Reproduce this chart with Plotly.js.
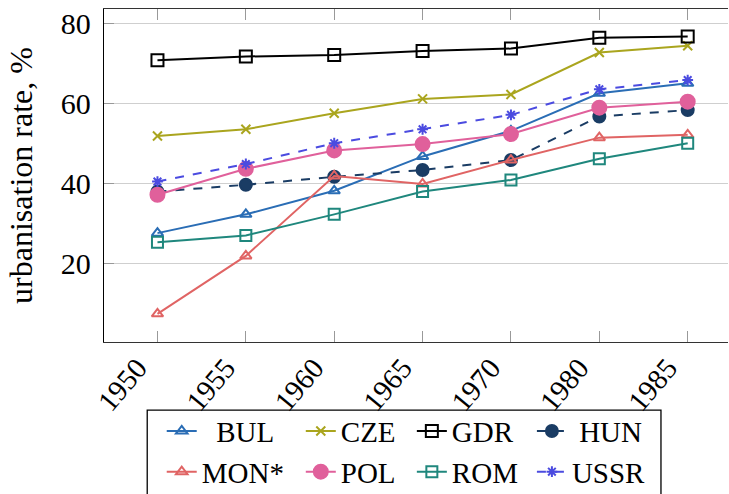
<!DOCTYPE html>
<html>
<head>
<meta charset="utf-8">
<script src="https://cdn.plot.ly/plotly-3.0.1.min.js"></script>
<style>html,body{margin:0;padding:0;overflow:hidden;background:#fff}</style>
</head>
<body>
<div id="chart" style="width:729px;height:494px"></div>
<script>
var years = ["1950", "1955", "1960", "1965", "1970", "1980", "1985"];
var BUL  = [27.5, 32.2, 38.1, 46.7, 53.1, 62.5, 65.0];
var CZE  = [51.8, 53.5, 57.5, 61.1, 62.2, 72.7, 74.4];
var GDR  = [70.8, 71.7, 72.1, 73.1, 73.7, 76.4, 76.7];
var HUN  = [37.9, 39.6, 41.6, 43.3, 45.8, 56.7, 58.3];
var MON  = [7.3, 21.8, 41.8, 39.8, 45.8, 51.4, 52.1];
var POL  = [37.1, 43.6, 48.2, 49.8, 52.3, 58.9, 60.4];
var ROM  = [25.2, 26.9, 32.2, 37.9, 40.8, 46.1, 50.0];
var USSR = [40.4, 44.8, 50.0, 53.5, 57.1, 63.5, 65.8];
var names = ["BUL", "CZE", "GDR", "HUN", "MON*", "POL", "ROM", "USSR"];
var legendNames = ["\u00a0\u00a0BUL", "CZE", "GDR", "\u00a0HUN", "MON*", "POL", "ROM", "USSR"];

var W = 729, H = 494;
var mL = 104.3, mT = 9, mR = 1, mB = H - 342.3;
var pw = W - mL - mR, ph = H - mT - mB;
function px(x) { return (x - mL) / pw; }
function py(y) { return (H - mB - y) / ph; }

var FONT = "Liberation Serif, Times New Roman, serif";
var series = [BUL, CZE, GDR, HUN, MON, POL, ROM, USSR];
var colors = ["#2a6db5", "#aaa51e", "#000000", "#1a3c64", "#e06464", "#e0609b", "#1f877d", "#4b4be0"];
var dashes = ["solid", "solid", "solid", "dash", "solid", "solid", "solid", "dash"];
var symbols = ["triangle-up-open", "x-thin-open", "square-open", "circle", "triangle-up-open", "circle", "square-open", "asterisk-open"];
var sizes = [10, 9, 12, 12, 10, 14, 11, 9];
var legendIds = ["legend", "legend2", "legend3", "legend4", "legend", "legend2", "legend3", "legend4"];

var traces = series.map(function (s, i) {
  return {
    x: years, y: s, name: legendNames[i], type: "scatter", mode: "lines+markers",
    legend: legendIds[i],
    line: {color: colors[i], width: 2, dash: dashes[i]},
    marker: {symbol: symbols[i], size: sizes[i], color: colors[i],
             line: {color: colors[i], width: 2}}
  };
});

var colX = [155, 294, 405, 525];
var legTop = 406;
function legendAt(cx) {
  return {x: px(cx + 7), xanchor: "left", y: py(legTop), yanchor: "top",
          orientation: "v", bgcolor: "rgba(0,0,0,0)", borderwidth: 0,
          font: {family: FONT, size: 29, color: "#000"}, tracegroupgap: 0, itemsizing: "trace"};
}

var layout = {
  width: W, height: H,
  margin: {l: mL, r: mR, t: mT, b: mB, pad: 0, autoexpand: false},
  paper_bgcolor: "#fff", plot_bgcolor: "#fff",
  font: {family: FONT, size: 29, color: "#000"},
  showlegend: true,
  legend: legendAt(colX[0]),
  legend2: legendAt(colX[1]),
  legend3: legendAt(colX[2]),
  legend4: legendAt(colX[3]),
  xaxis: {
    type: "category", range: [-0.605, 6.456], automargin: false,
    showline: true, linecolor: "#333", linewidth: 1.3, mirror: "ticks",
    ticks: "inside", ticklen: 11, tickcolor: "#999", tickwidth: 1,
    showgrid: false, zeroline: false, tickangle: -50,
    ticklabelshift: -20, ticklabelstandoff: -4,
    tickfont: {family: FONT, size: 29, color: "#000"}
  },
  yaxis: {
    range: [0.25, 83.6], tickvals: [20, 40, 60, 80], automargin: false,
    showline: true, linecolor: "#000", linewidth: 1.3, mirror: false,
    ticks: "inside", ticklen: 10, tickcolor: "#999", tickwidth: 1,
    showgrid: true, gridcolor: "#cfcfcf", gridwidth: 1, zeroline: false,
    ticklabelstandoff: 6,
    tickfont: {family: FONT, size: 30, color: "#000"},
    title: {text: "urbanisation rate, %", font: {family: FONT, size: 32, color: "#000"}, standoff: 18}
  },
  shapes: [{
    type: "rect", xref: "paper", yref: "paper",
    x0: px(147.5), x1: px(661), y0: py(510), y1: py(410.5),
    line: {color: "#000", width: 1.3}, fillcolor: "rgba(0,0,0,0)", layer: "below"
  }]
};

Plotly.newPlot("chart", traces, layout, {displayModeBar: false, staticPlot: true});
</script>
</body>
</html>
